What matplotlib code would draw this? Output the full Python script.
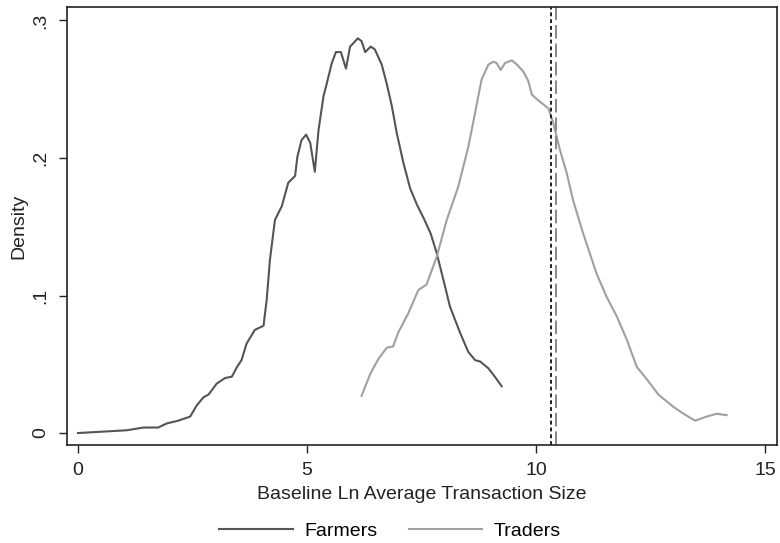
import matplotlib
matplotlib.use("Agg")
import matplotlib.pyplot as plt

plt.rcParams['font.family'] = ['Liberation Sans', 'DejaVu Sans']

farmers_x = [0.0, 1.06, 1.43, 1.75, 1.94, 2.19, 2.45, 2.59, 2.74, 2.85, 3.03, 3.21, 3.36, 3.47, 3.57,
             3.68, 3.86, 4.05, 4.12, 4.19, 4.30, 4.45, 4.59, 4.74, 4.79, 4.88, 4.98, 5.07, 5.17, 5.25,
             5.36, 5.43, 5.54, 5.63, 5.74, 5.85, 5.94, 6.11, 6.19, 6.27, 6.39, 6.48, 6.63, 6.74, 6.85,
             6.96, 7.10, 7.25, 7.40, 7.55, 7.70, 7.83, 7.98, 8.12, 8.34, 8.52, 8.67, 8.78, 8.96, 9.10, 9.25]
farmers_y = [0.000, 0.002, 0.004, 0.004, 0.007, 0.009, 0.012, 0.020, 0.026, 0.028, 0.036, 0.040, 0.041, 0.048, 0.053,
             0.065, 0.075, 0.078, 0.097, 0.126, 0.155, 0.165, 0.182, 0.187, 0.201, 0.213, 0.217, 0.211, 0.190, 0.220,
             0.245, 0.254, 0.269, 0.277, 0.277, 0.265, 0.281, 0.287, 0.285, 0.277, 0.281, 0.279, 0.268, 0.254, 0.238,
             0.218, 0.197, 0.178, 0.166, 0.156, 0.145, 0.131, 0.111, 0.092, 0.073, 0.059, 0.053, 0.052, 0.047, 0.041, 0.034]

traders_x = [6.19, 6.38, 6.56, 6.74, 6.88, 6.99, 7.21, 7.43, 7.61, 7.83, 8.05, 8.30, 8.52, 8.67, 8.81,
             8.96, 9.07, 9.14, 9.23, 9.32, 9.47, 9.58, 9.72, 9.83, 9.91, 10.01, 10.12, 10.27, 10.38, 10.52,
             10.67, 10.81, 11.03, 11.32, 11.54, 11.76, 11.98, 12.20, 12.42, 12.67, 13.00, 13.22, 13.47, 13.73,
             13.94, 14.16]
traders_y = [0.027, 0.043, 0.054, 0.062, 0.063, 0.073, 0.087, 0.104, 0.108, 0.128, 0.155, 0.179, 0.208, 0.233, 0.257,
             0.268, 0.270, 0.269, 0.264, 0.269, 0.271, 0.268, 0.263, 0.256, 0.246, 0.243, 0.240, 0.236, 0.225, 0.206,
             0.189, 0.169, 0.145, 0.116, 0.099, 0.085, 0.068, 0.048, 0.039, 0.028, 0.019, 0.014, 0.009, 0.012,
             0.014, 0.013]

vline_dotted = 10.32
vline_dashed = 10.44

x_ticks = [0, 5, 10, 15]
y_ticks = [0, 0.1, 0.2, 0.3]
y_ticklabels = ['0', '.1', '.2', '.3']

FS = 14

fig = plt.figure(figsize=(7.8, 5.43), dpi=100)
ax = fig.add_axes([67/780, 1-445/543, (777-67)/780, (445-7)/543])

ax.plot(farmers_x, farmers_y, color='#555555', lw=1.5, label='Farmers')
ax.plot(traders_x, traders_y, color='#a0a0a0', lw=1.5, label='Traders')
ax.axvline(vline_dotted, color='#222222', lw=1.4, ls=(0, (2, 1.5)))
ax.axvline(vline_dashed, color='#888888', lw=1.4, ls=(0, (7, 2.5)))

ax.set_xlim(-0.24, 15.26)
ax.set_ylim(-0.0087, 0.3098)
ax.set_xticks(x_ticks)
ax.set_xticklabels([str(t) for t in x_ticks])
ax.set_yticks(y_ticks)
ax.set_yticklabels(y_ticklabels, rotation=90, va='center')
ax.tick_params(axis='both', direction='out', length=6, width=1, labelsize=FS, colors='#222222')
ax.tick_params(axis='x', pad=6)
ax.tick_params(axis='y', pad=7)
for s in ax.spines.values():
    s.set_color('#222222')
    s.set_linewidth(1.2)

ax.set_xlabel('Baseline Ln Average Transaction Size', fontsize=FS, labelpad=5, color='#222222')
ax.set_ylabel('Density', fontsize=FS, labelpad=3, color='#222222')

fig.legend(loc='lower center', bbox_to_anchor=(0.5, -0.027), ncol=2, frameon=False, fontsize=FS,
           handlelength=3.8, handletextpad=0.6, columnspacing=1.6)

fig.savefig('out.png', dpi=100)
